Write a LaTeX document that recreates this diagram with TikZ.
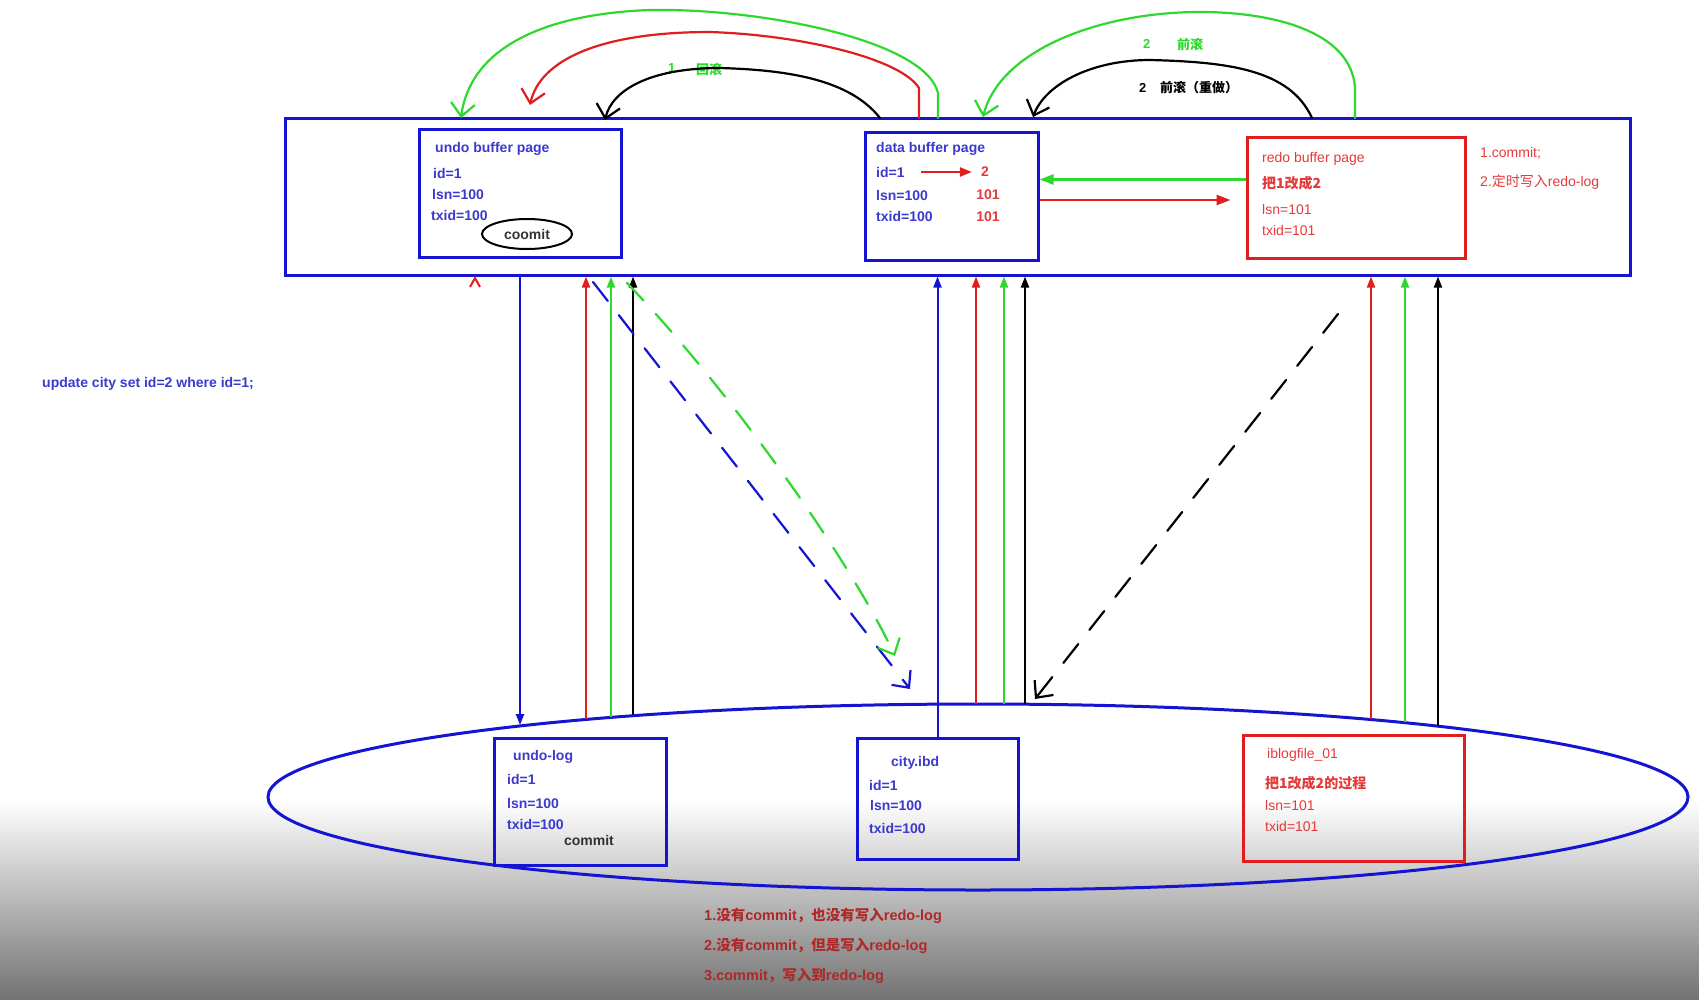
\documentclass[tikz,border=0pt]{standalone}
\usepackage{fontspec}
\setmainfont{Liberation Sans}
\newfontfamily\cjk{Noto Sans CJK SC}
\usepackage{tikz}
\usetikzlibrary{arrows.meta,shapes.geometric}
\definecolor{penblue}{HTML}{1414D2}
\definecolor{inkblue}{HTML}{3A3AD0}
\definecolor{penred}{HTML}{E01E1E}
\definecolor{inkred}{HTML}{E43A3A}
\definecolor{pengreen}{HTML}{2ED82E}
\definecolor{darkred}{HTML}{B02828}
\newcommand{\bufbox}[5]{
  \node[page,draw=#2,minimum width=#4pt,minimum height=#5pt] (#1) at #3 {};
}
\tikzset{
  page/.style={line width=3pt,inner sep=0pt},
  lbl/.style={anchor=west,inner sep=0pt,text=inkblue,font=\fontsize{14}{16}\selectfont\bfseries},
  rlbl/.style={lbl,text=inkred},
  uparrow/.style={line width=2pt,-{Triangle[length=11pt,width=8pt]}},
  penarrow/.style={line width=2.2pt,line cap=round,-{Straight Barb[length=13pt,width=24pt]}},
  dashpen/.style={dash pattern=on 24pt off 18pt}
}

\begin{document}
\begin{tikzpicture}[x=1pt,y=-1pt]
  \useasboundingbox (0,0) rectangle (1699,999);
  \shade[top color=white,bottom color=black!55] (0,800) rectangle (1699,999);

  % memory
  \bufbox{mem}{penblue}{(957.5,196.5)}{1345}{157}
  \bufbox{undobuf}{penblue}{(520,193)}{202}{128}
  \bufbox{databuf}{penblue}{(951.5,196)}{173}{128}
  \bufbox{redobuf}{penred}{(1356,197.5)}{218}{121}

  % disk
  \node[draw=penblue,ellipse,line width=3pt,minimum width=1420pt,minimum height=186pt,inner sep=0pt] (disk) at (978,797) {};
  \bufbox{undolog}{penblue}{(580,801.5)}{172}{127}
  \bufbox{cityibd}{penblue}{(937.5,798.5)}{161}{121}
  \bufbox{iblog}{penred}{(1353.5,798)}{221}{126}

  % undo buffer page
  \node[lbl] (ubt) at (435,149) {undo buffer page};
  \node[lbl] (ubid) at (433,173) {id=1};
  \node[lbl] (ublsn) at (432,194) {lsn=100};
  \node[lbl] (ubtx) at (431,215) {txid=100};
  \node[draw,ellipse,line width=2pt,minimum width=90pt,minimum height=30pt,inner sep=0pt,
    text=black!80,font=\fontsize{14}{16}\selectfont\bfseries] (coomit) at (527,234) {coomit};

  % data buffer page
  \node[lbl] (dbt) at (876,149) {data buffer page};
  \node[lbl] (dbid) at (876,172) {id=1};
  \node[lbl] (dblsn) at (876,195) {lsn=100};
  \node[lbl] (dbtx) at (876,216) {txid=100};
  \node[rlbl,anchor=center] (dbtwo) at (985,172) {2};
  \node[rlbl,anchor=center] (dblsn2) at (988,195) {101};
  \node[rlbl,anchor=center] (dbtx2) at (988,217) {101};
  \draw[penred,line width=2.5pt,-{Triangle[length=12pt,width=9pt]},shorten <=16pt,shorten >=9pt] (dbid) -- (dbtwo);

  % redo buffer page
  \node[rlbl,font=\fontsize{14}{16}\selectfont] (rbt) at (1262,159) {redo buffer page};
  \node[rlbl] (rbchg) at (1262,183) {\cjk 把1改成2};
  \node[rlbl,font=\fontsize{14}{16}\selectfont] (rblsn) at (1262,209) {lsn=101};
  \node[rlbl,font=\fontsize{14}{16}\selectfont] (rbtx) at (1262,230) {txid=101};
  \node[rlbl,font=\fontsize{14}{16}\selectfont] (cm1) at (1480,153) {1.commit;};
  \node[rlbl,font=\fontsize{14}{16}\selectfont] (cm2) at (1480,182) {2.{\cjk 定时写入}redo-log};

  % disk files
  \node[lbl] (ult) at (513,757) {undo-log};
  \node[lbl] (ulid) at (507,779) {id=1};
  \node[lbl] (ullsn) at (507,803) {lsn=100};
  \node[lbl] (ultx) at (507,824) {txid=100};
  \node[lbl,anchor=center,text=black!80] (ulcm) at (589,840) {commit};
  \node[lbl] (cit) at (891,763) {city.ibd};
  \node[lbl] (ciid) at (869,785) {id=1};
  \node[lbl] (cilsn) at (870,805) {lsn=100};
  \node[lbl] (citx) at (869,828) {txid=100};
  \node[rlbl,font=\fontsize{14}{16}\selectfont] (ibt) at (1267,755) {iblogfile\_01};
  \node[rlbl] (ibchg) at (1265,783) {\cjk 把1改成2的过程};
  \node[rlbl,font=\fontsize{14}{16}\selectfont] (iblsn) at (1265,805) {lsn=101};
  \node[rlbl,font=\fontsize{14}{16}\selectfont] (ibtx) at (1265,826) {txid=101};

  % texts
  \node[lbl] (sql) at (42,384) {update city set id=2 where id=1;};
  \node[lbl,text=darkred,font=\fontsize{14.5}{16}\selectfont\bfseries] (case1) at (704,916) {1.{\cjk 没有}commit{\cjk ，也没有写入}redo-log};
  \node[lbl,text=darkred,font=\fontsize{14.5}{16}\selectfont\bfseries] (case2) at (704,946) {2.{\cjk 没有}commit{\cjk ，但是写入}redo-log};
  \node[lbl,text=darkred,font=\fontsize{14.5}{16}\selectfont\bfseries] (case3) at (704,976) {3.commit{\cjk ，写入到}redo-log};
  \node[lbl,text=pengreen,font=\fontsize{13}{15}\selectfont\bfseries] (rb1) at (668,68) {1};
  \node[lbl,text=pengreen,font=\fontsize{13}{15}\selectfont\cjk\bfseries] (rb1t) at (696,69) {回滚};
  \node[lbl,text=pengreen,font=\fontsize{13}{15}\selectfont\bfseries] (rf2) at (1143,44) {2};
  \node[lbl,text=pengreen,font=\fontsize{13}{15}\selectfont\cjk\bfseries] (rf2t) at (1177,44) {前滚};
  \node[lbl,text=black,font=\fontsize{13}{15}\selectfont\bfseries] (rd2) at (1139,88) {2};
  \node[lbl,text=black,font=\fontsize{13}{15}\selectfont\cjk\bfseries] (rd2t) at (1160,88) {前滚（重做）};

  % buffer to buffer
  \draw[pengreen,line width=2.5pt,-{Triangle[length=14pt,width=10pt]}] ([yshift=18pt]redobuf.west) -- ([yshift=18pt]redobuf.west -| databuf.east);
  \draw[penred,line width=2.5pt,-{Triangle[length=14pt,width=10pt]},shorten >=15pt] ([yshift=-4pt]databuf.east) -- ([yshift=-4pt]databuf.east -| redobuf.west);

  % points on the disk rim
  \coordinate (ulred) at (586,719);
  \coordinate (ulgrn) at (611,717);
  \coordinate (ulblk) at (633,715);
  \coordinate (ulin) at (520,725);
  \coordinate (cired) at (976,704);
  \coordinate (cigrn) at (1004,704);
  \coordinate (ciblk) at (1025,704);
  \coordinate (ibred) at (1371,719);
  \coordinate (ibgrn) at (1405,722);
  \coordinate (ibblk) at (1438,726);

  % disk to memory
  \draw[uparrow,penblue] (undobuf.south |- mem.south) -- (ulin);
  \draw[uparrow,penred] (ulred) -- (ulred |- mem.south);
  \draw[uparrow,pengreen] (ulgrn) -- (ulgrn |- mem.south);
  \draw[uparrow,black] (ulblk) -- (ulblk |- mem.south);
  \draw[uparrow,penblue] (cityibd.north) -- (cityibd.north |- mem.south);
  \draw[uparrow,penred] (cired) -- (cired |- mem.south);
  \draw[uparrow,pengreen] (cigrn) -- (cigrn |- mem.south);
  \draw[uparrow,black] (ciblk) -- (ciblk |- mem.south);
  \draw[uparrow,penred] (ibred) -- (ibred |- mem.south);
  \draw[uparrow,pengreen] (ibgrn) -- (ibgrn |- mem.south);
  \draw[uparrow,black] (ibblk) -- (ibblk |- mem.south);

  % dashed flows
  \coordinate (bds) at (593,282);
  \coordinate (bde) at (910,689);
  \coordinate (gds) at (627,283);
  \coordinate (gde) at (895,656);
  \coordinate (kds) at (1338,314);
  \coordinate (kde) at (1035,699);
  \draw[penarrow,dashpen,penblue] (bds) -- (bde);
  \draw[penarrow,dashpen,pengreen] (gds) .. controls (730,390) and (850,560) .. (gde);
  \draw[penarrow,dashpen,black] (kds) -- (kde);
  \draw[penred,line width=2pt] (470,287) -- (475,278) -- (480,287);

  % rollback / roll forward
  \coordinate (g1s) at (938,118);
  \coordinate (g1e) at (461,118);
  \coordinate (r1s) at (919,118);
  \coordinate (r1e) at (530,105);
  \coordinate (k1s) at (880,118);
  \coordinate (k1e) at (605,120);
  \coordinate (g2s) at (1355,118);
  \coordinate (g2e) at (983,117);
  \coordinate (k2s) at (1312,118);
  \coordinate (k2e) at (1033,117);
  \draw[penarrow,pengreen] (g1s) -- (938,93) .. controls (925,40) and (760,8) .. (650,10) .. controls (540,14) and (470,50) .. (g1e);
  \draw[penarrow,penred] (r1s) -- (919,88) .. controls (900,58) and (800,35) .. (710,32) .. controls (600,32) and (540,60) .. (r1e);
  \draw[penarrow,black] (k1s) .. controls (850,80) and (790,70) .. (720,68) .. controls (650,68) and (612,90) .. (k1e);
  \draw[penarrow,pengreen] (g2s) -- (1355,87) .. controls (1350,30) and (1270,12) .. (1200,12) .. controls (1100,12) and (1000,50) .. (g2e);
  \draw[penarrow,black] (k2s) .. controls (1290,70) and (1230,62) .. (1150,60) .. controls (1090,60) and (1045,85) .. (k2e);
\end{tikzpicture}
\end{document}
